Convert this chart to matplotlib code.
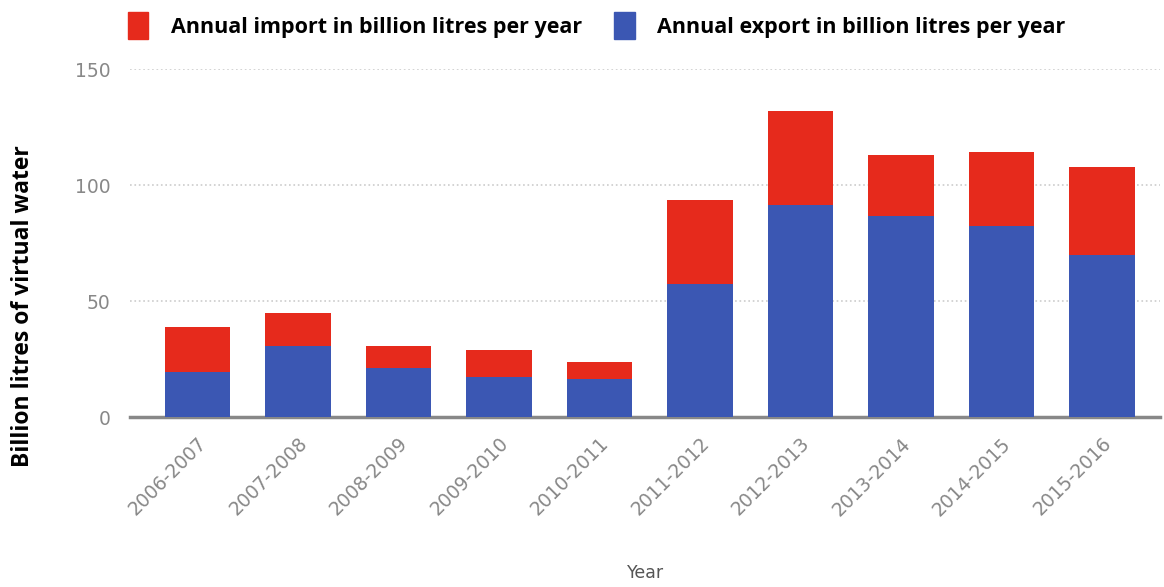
import matplotlib.pyplot as plt
from matplotlib.patches import Patch
import numpy as np

years = ['2006-2007', '2007-2008', '2008-2009', '2009-2010', '2010-2011',
         '2011-2012', '2012-2013', '2013-2014', '2014-2015', '2015-2016']
export = [19.7, 30.9, 21.4, 17.2, 16.4, 57.6, 91.7, 86.9, 82.6, 70.1]
total = [38.9, 44.9, 30.8, 28.9, 23.7, 93.8, 132.0, 113.1, 114.3, 107.9]
imports = [t - e for t, e in zip(total, export)]

red = '#e62a1c'
blue = '#3b57b3'

fig = plt.figure(figsize=(11.64, 5.87), dpi=100)
ax = fig.add_axes([0.1117, 0.289, 0.885, 0.593])

x = np.arange(len(years))
ax.bar(x, export, width=0.65, color=blue, zorder=3)
ax.bar(x, imports, bottom=export, width=0.65, color=red, zorder=3)

ax.set_xlim(-0.67, 9.58)
ax.set_ylim(0, 150)
ax.set_yticks([0, 50, 100, 150])
ax.set_xticks(x)
ax.set_xticklabels(years, rotation=45, ha='right', rotation_mode='anchor')
ax.tick_params(length=0, colors='#888888', labelsize=13.5, pad=12)
ax.tick_params(axis='y', pad=14)
for s in ['top', 'right', 'left']:
    ax.spines[s].set_visible(False)
ax.spines['bottom'].set_color('#888888')
ax.spines['bottom'].set_linewidth(2.5)
ax.grid(axis='y', linestyle=':', color='#cccccc', linewidth=1.2, zorder=0)

ax.set_ylabel('Billion litres of virtual water', fontsize=16.5, fontweight='bold',
              family='Open Sans')
ax.yaxis.set_label_coords(-0.092, 0.32)
ax.set_xlabel('Year', fontsize=12.5, color='#555555')
ax.xaxis.set_label_coords(0.5, -0.42)

handles = [Patch(color=red, label='Annual import in billion litres per year'),
           Patch(color=blue, label='Annual export in billion litres per year')]
fig.legend(handles=handles, loc='upper left', bbox_to_anchor=(0.093, 1.012), ncol=2,
           frameon=False, handlelength=0.95, handleheight=1.55, columnspacing=1.5,
           handletextpad=1.05, prop={'family': 'Open Sans', 'weight': 'bold', 'size': 15.5})

fig.savefig('out.png', dpi=100)
